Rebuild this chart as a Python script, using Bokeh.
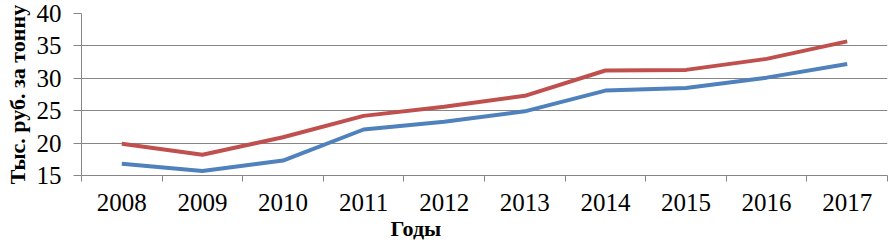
from bokeh.plotting import figure
from bokeh.models import Range1d, FixedTicker, Title
from bokeh.embed import file_html
from bokeh.resources import INLINE

years = [2008, 2009, 2010, 2011, 2012, 2013, 2014, 2015, 2016, 2017]
red_values = [19.9, 18.2, 20.9, 24.2, 25.6, 27.3, 31.2, 31.3, 33.0, 35.7]
blue_values = [16.8, 15.7, 17.3, 22.1, 23.3, 24.9, 28.1, 28.5, 30.1, 32.2]
y_ticks = [15, 20, 25, 30, 35, 40]
x_title = "Годы"
y_title = "Тыс. руб. за тонну"

FONT = "Liberation Serif"
GRID = "#868686"
RED = "#C0504D"
BLUE = "#4F81BD"

x_bounds = [years[0] - 0.5] + [y + 0.5 for y in years]

p = figure(width=889, height=243, output_backend="svg", toolbar_location=None,
           x_range=Range1d(years[0] - 0.5, years[-1] + 0.5),
           y_range=Range1d(y_ticks[0], y_ticks[-1]),
           min_border_left=81, min_border_right=2, min_border_top=13, min_border_bottom=68)
p.outline_line_color = None
p.background_fill_color = "white"
p.border_fill_color = "white"

p.line(years, red_values, line_color=RED, line_width=4)
p.line(years, blue_values, line_color=BLUE, line_width=4)

xa = p.xaxis[0]
xa.ticker = FixedTicker(ticks=years, minor_ticks=x_bounds)
xa.major_label_overrides = {y: str(y) for y in years}
xa.major_tick_out = 0
xa.major_tick_in = 0
xa.minor_tick_out = 6
xa.minor_tick_in = 0
xa.minor_tick_line_color = GRID
xa.axis_line_color = GRID
xa.major_label_text_font = FONT
xa.major_label_text_font_size = "25px"
xa.major_label_text_color = "black"
xa.major_label_standoff = 12

ya = p.yaxis[0]
ya.ticker = FixedTicker(ticks=y_ticks, minor_ticks=[])
ya.major_tick_out = 8
ya.major_tick_in = 0
ya.major_tick_line_color = GRID
ya.axis_line_color = GRID
ya.major_label_text_font = FONT
ya.major_label_text_font_size = "25px"
ya.major_label_text_color = "black"
ya.major_label_standoff = 12
ya.axis_label = y_title
ya.axis_label_text_font = FONT
ya.axis_label_text_font_size = "22px"
ya.axis_label_text_font_style = "bold"
ya.axis_label_text_color = "black"
ya.axis_label_standoff = 4

p.xgrid.visible = False
p.ygrid.ticker = FixedTicker(ticks=y_ticks, minor_ticks=[])
p.ygrid.grid_line_color = GRID
p.ygrid.grid_line_width = 1

t = Title(text=x_title, align="left", offset=309, standoff=0,
          text_font=FONT, text_font_size="22px", text_font_style="bold",
          text_color="black")
p.add_layout(t, "below")

open("out.html", "w").write(file_html(p, INLINE))
